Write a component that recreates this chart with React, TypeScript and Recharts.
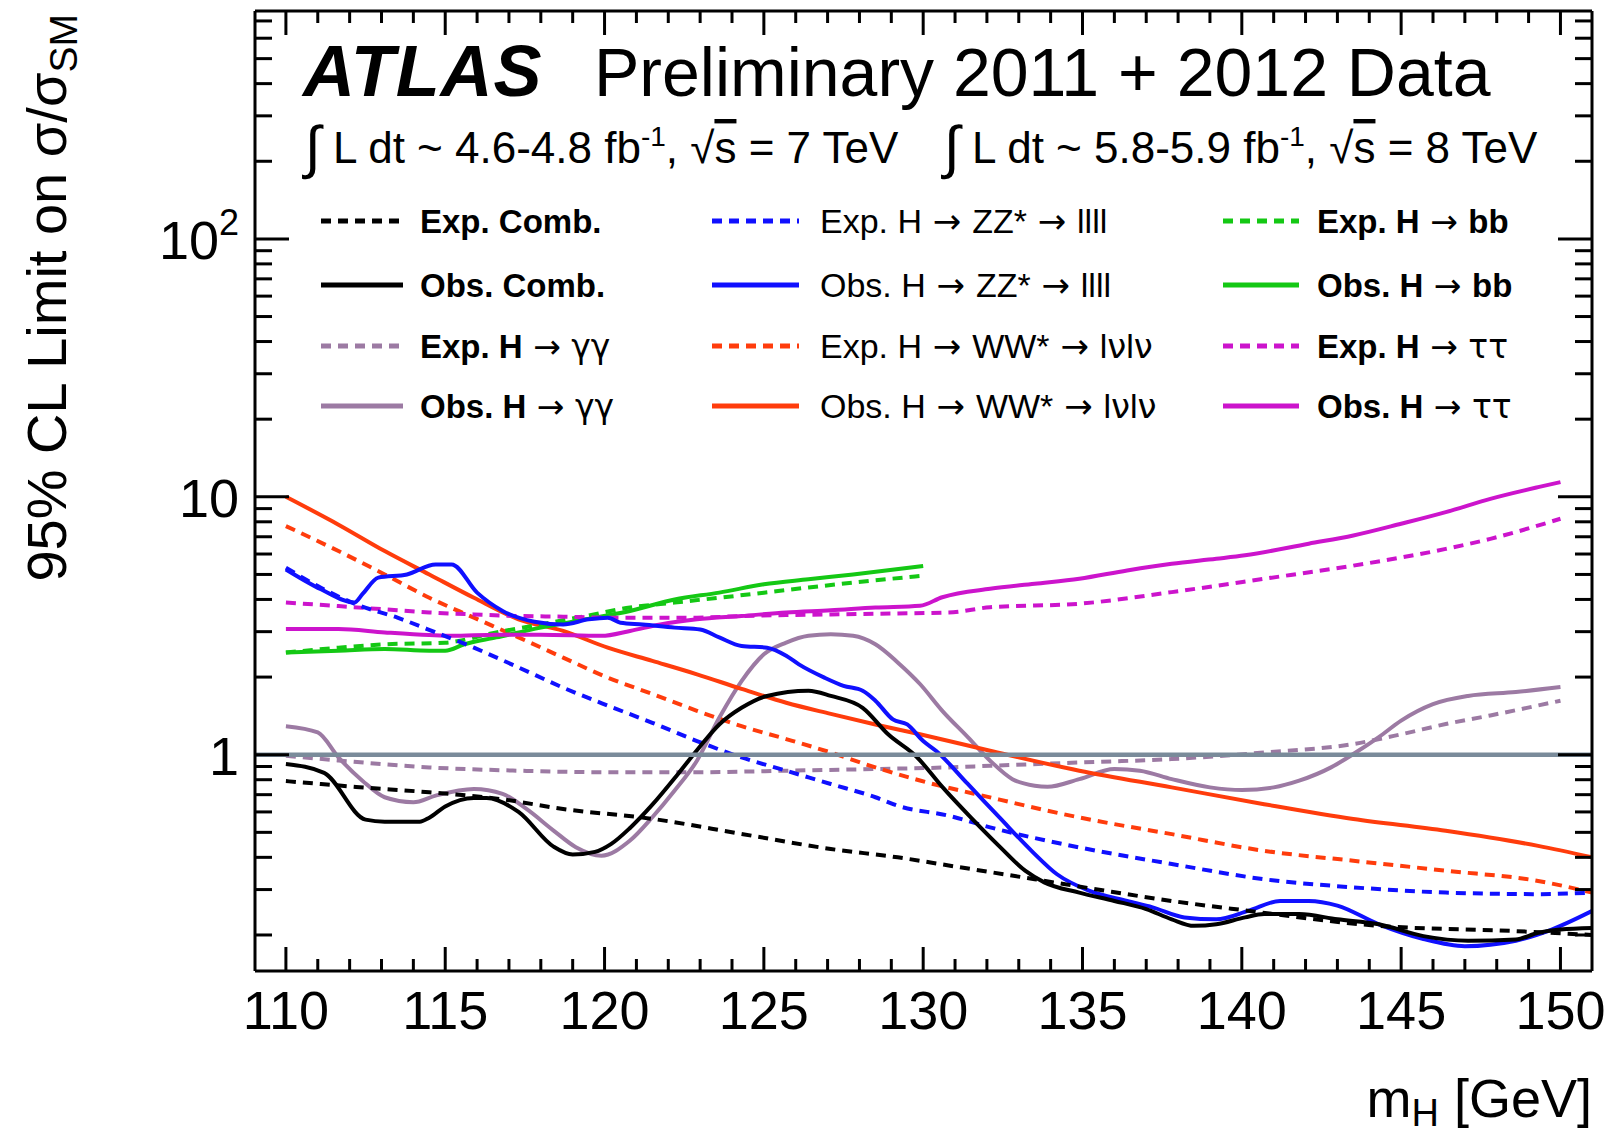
import { LineChart, Line, XAxis, YAxis, ReferenceLine } from 'recharts'

const W = 1614
const H = 1136
const FONT = '"Liberation Sans", Arial, Helvetica, sans-serif'
const SYMBOL_FONT = '"DejaVu Sans", "Liberation Sans", sans-serif'

// plot frame in page pixels
const FRAME = { left: 255, right: 1592, top: 11, bottom: 971 }
// room reserved by each axis (subtracted from the margins below)
const AXIS = { bottom: 40, top: 10, left: 40, right: 10 }

const X_DOMAIN: [number, number] = [109.03, 150.99]
const Y_DOMAIN: [number, number] = [0.145, 765]

const massTicks = Array.from({ length: 41 }, (_, i) => 110 + i)
const limitTicks = [
  0.2, 0.3, 0.4, 0.5, 0.6, 0.7, 0.8, 0.9,
  1, 2, 3, 4, 5, 6, 7, 8, 9,
  10, 20, 30, 40, 50, 60, 70, 80, 90,
  100, 200, 300, 400, 500, 600, 700,
]

// --- combined ---
const combExpMass = [110, 111.1, 112.2, 114.5, 116.7, 118.7, 121.5, 124.3, 127.1, 129.2, 130.8, 133.5, 135.7, 137.8, 140, 144.3, 148.6, 151]
const combExpLimit = [0.79, 0.77, 0.75, 0.715, 0.674, 0.616, 0.564, 0.493, 0.431, 0.4, 0.372, 0.329, 0.297, 0.271, 0.25, 0.217, 0.207, 0.2]
const combObsMass = [110, 111.2, 112.5, 113.1, 114.2, 114.5, 115, 115.9, 116.3, 117.3, 118.4, 119, 119.7, 120.2, 120.8, 121.5, 122.3, 122.9, 123.6, 124.3, 125.1, 126.4, 127.1, 128.1, 128.9, 129.8, 130.6, 131.5, 132.4, 133.2, 133.8, 134.9, 136, 137, 137.8, 138.5, 139.2, 140.1, 140.7, 141.8, 143, 144.3, 145.7, 147.1, 148.6, 149.3, 150, 151]
const combObsLimit = [0.92, 0.85, 0.56, 0.55, 0.55, 0.57, 0.63, 0.68, 0.68, 0.6, 0.44, 0.41, 0.42, 0.45, 0.52, 0.64, 0.84, 1.04, 1.31, 1.52, 1.69, 1.77, 1.69, 1.52, 1.2, 0.98, 0.75, 0.57, 0.44, 0.355, 0.32, 0.292, 0.271, 0.252, 0.23, 0.217, 0.22, 0.234, 0.241, 0.241, 0.23, 0.22, 0.198, 0.19, 0.192, 0.204, 0.21, 0.213]

// --- H -> ZZ* -> 4l ---
const zzExpMass = [110, 111.1, 112.2, 113.5, 114.7, 115.9, 117.3, 118.7, 120.1, 121.5, 122.9, 124.3, 125.7, 127.1, 128.5, 129.2, 130.8, 132.1, 134.9, 137.8, 140.7, 143.5, 146.4, 149.3, 151]
const zzExpLimit = [5.31, 4.44, 3.83, 3.4, 2.98, 2.6, 2.18, 1.82, 1.55, 1.33, 1.13, 0.976, 0.867, 0.77, 0.684, 0.634, 0.58, 0.523, 0.437, 0.377, 0.329, 0.306, 0.292, 0.288, 0.292]
const zzObsMass = [110, 111.1, 112.15, 112.4, 112.9, 113.8, 114.7, 115.2, 116, 116.8, 117.8, 118.7, 119.5, 120.1, 120.5, 121.2, 122.2, 123, 123.6, 124.3, 125.1, 125.7, 126.1, 126.9, 127.5, 128.1, 128.5, 129.05, 129.5, 130, 130.4, 131.4, 132.4, 133.4, 134.2, 135.2, 136.4, 137.2, 138.2, 139.2, 140.2, 141.2, 142.1, 143, 144.3, 145.7, 147, 148.6, 149.6, 151]
const zzObsLimit = [5.23, 4.38, 3.89, 4.19, 4.86, 5.0, 5.47, 5.47, 4.25, 3.61, 3.28, 3.2, 3.35, 3.4, 3.25, 3.2, 3.11, 3.06, 2.85, 2.64, 2.6, 2.42, 2.24, 1.99, 1.85, 1.77, 1.62, 1.37, 1.31, 1.13, 1.036, 0.77, 0.57, 0.424, 0.344, 0.297, 0.271, 0.256, 0.234, 0.23, 0.248, 0.271, 0.271, 0.26, 0.22, 0.193, 0.181, 0.19, 0.207, 0.248]

// --- H -> bb ---
const bbExpMass = [110, 111.65, 113.1, 115, 116.6, 118, 119.4, 120.8, 122.2, 123.6, 125, 126.4, 127.8, 129.9]
const bbExpLimit = [2.49, 2.6, 2.68, 2.72, 2.98, 3.2, 3.45, 3.72, 3.89, 4.06, 4.25, 4.45, 4.65, 4.93]
const bbObsMass = [110, 111.65, 113.1, 114.5, 115, 115.6, 116.6, 118, 119.4, 120.8, 122.2, 123.6, 125, 126.4, 127.8, 130]
const bbObsLimit = [2.49, 2.53, 2.57, 2.53, 2.53, 2.68, 2.85, 3.11, 3.35, 3.61, 4.0, 4.25, 4.58, 4.79, 5.0, 5.39]

// --- H -> gamma gamma ---
const ggExpMass = [110, 111.65, 114.5, 117.3, 120.1, 122.9, 125.7, 128.5, 130.8, 132.1, 134.9, 137.8, 140.7, 143.5, 145, 146.4, 147.8, 150]
const ggExpLimit = [0.99, 0.95, 0.893, 0.867, 0.855, 0.855, 0.867, 0.88, 0.893, 0.906, 0.933, 0.962, 1.02, 1.1, 1.2, 1.315, 1.42, 1.62]
const ggObsMass = [110, 111, 111.65, 112.4, 113.1, 114, 114.7, 115.9, 116.8, 117.55, 118.4, 119.1, 119.9, 120.8, 121.5, 122.2, 122.9, 123.6, 124.3, 125, 125.7, 126.4, 127.1, 127.8, 128.5, 129.2, 129.9, 130.6, 131.4, 132.1, 132.8, 133.5, 133.9, 134.9, 136, 136.8, 137.8, 139, 140, 141, 141.8, 142.8, 143.5, 144.3, 145, 146, 147.1, 148.6, 150]
const ggObsLimit = [1.29, 1.22, 0.976, 0.793, 0.684, 0.654, 0.694, 0.736, 0.705, 0.616, 0.508, 0.438, 0.406, 0.465, 0.572, 0.726, 0.948, 1.39, 1.93, 2.45, 2.72, 2.89, 2.93, 2.89, 2.68, 2.28, 1.88, 1.48, 1.17, 0.948, 0.804, 0.758, 0.751, 0.804, 0.88, 0.867, 0.804, 0.747, 0.729, 0.747, 0.793, 0.893, 1.006, 1.17, 1.355, 1.57, 1.69, 1.75, 1.83]

// --- H -> WW* -> lvlv ---
const wwMass = [110, 111.65, 113.1, 114.5, 115.9, 117.3, 118.7, 120.1, 121.5, 122.9, 124.3, 125.7, 127.1, 128.5, 129.9, 132.1, 134.9, 137.8, 140.7, 143.5, 146.4, 149.3, 151]
const wwExpLimit = [7.7, 6.16, 5.0, 4.06, 3.4, 2.85, 2.38, 1.99, 1.72, 1.48, 1.29, 1.15, 1.02, 0.893, 0.794, 0.683, 0.571, 0.492, 0.424, 0.388, 0.355, 0.324, 0.292]
const wwObsLimit = [10, 7.8, 6.16, 5.0, 4.06, 3.35, 3.02, 2.6, 2.31, 2.05, 1.8, 1.59, 1.44, 1.31, 1.2, 1.036, 0.867, 0.747, 0.643, 0.563, 0.507, 0.443, 0.4]

// --- H -> tau tau ---
const ttExpMass = [110, 111.65, 113.1, 114.5, 115.9, 117.3, 118.7, 120.1, 122.9, 124.3, 125.7, 127.1, 128.5, 130.8, 132.1, 134.9, 137.8, 140.7, 143.5, 146.4, 147.8, 150]
const ttExpLimit = [3.89, 3.77, 3.66, 3.56, 3.5, 3.45, 3.43, 3.4, 3.4, 3.45, 3.48, 3.5, 3.52, 3.56, 3.73, 3.85, 4.27, 4.81, 5.41, 6.28, 6.87, 8.22]
const ttObsMass = [110, 111.65, 113.1, 114.5, 115.2, 116.6, 118, 119.9, 120.8, 121.75, 122.9, 124.3, 125.7, 127.1, 128.5, 129.9, 130.6, 132.1, 133.5, 134.9, 136.4, 137.8, 139.2, 140.1, 142.1, 143.5, 145, 146.4, 147.8, 149.3, 150]
const ttObsLimit = [3.07, 3.07, 2.98, 2.91, 2.89, 2.92, 2.92, 2.89, 3.02, 3.2, 3.35, 3.45, 3.56, 3.63, 3.72, 3.78, 4.08, 4.4, 4.6, 4.81, 5.18, 5.5, 5.75, 5.93, 6.58, 7.08, 7.86, 8.72, 9.82, 10.9, 11.4]

const COLORS = {
  comb: '#000000',
  zz: '#1010ff',
  bb: '#14c814',
  gg: '#9c7aa3',
  ww: '#ff3c0c',
  tt: '#cc14cc',
  smLine: '#7a8b9a',
}

// a label piece is plain text, or { sym } for greek letters set in a thin symbol face
type Piece = string | { sym: string }

type Series = {
  key: string
  label: Piece[][] // groups joined by arrows
  color: string
  dashed: boolean
  mass: number[]
  limit: number[]
}

const GG = { sym: '\u03b3\u03b3' }
const TT = { sym: '\u03c4\u03c4' }
const NU = { sym: '\u03bd' }

// legend is column-major: 3 columns of 4 entries
const legendColumns: Series[][] = [
  [
    { key: 'combExp', label: [['Exp. Comb.']], color: COLORS.comb, dashed: true, mass: combExpMass, limit: combExpLimit },
    { key: 'combObs', label: [['Obs. Comb.']], color: COLORS.comb, dashed: false, mass: combObsMass, limit: combObsLimit },
    { key: 'ggExp', label: [['Exp. H'], [GG]], color: COLORS.gg, dashed: true, mass: ggExpMass, limit: ggExpLimit },
    { key: 'ggObs', label: [['Obs. H'], [GG]], color: COLORS.gg, dashed: false, mass: ggObsMass, limit: ggObsLimit },
  ],
  [
    { key: 'zzExp', label: [['Exp. H'], ['ZZ*'], ['llll']], color: COLORS.zz, dashed: true, mass: zzExpMass, limit: zzExpLimit },
    { key: 'zzObs', label: [['Obs. H'], ['ZZ*'], ['llll']], color: COLORS.zz, dashed: false, mass: zzObsMass, limit: zzObsLimit },
    { key: 'wwExp', label: [['Exp. H'], ['WW*'], ['l', NU, 'l', NU]], color: COLORS.ww, dashed: true, mass: wwMass, limit: wwExpLimit },
    { key: 'wwObs', label: [['Obs. H'], ['WW*'], ['l', NU, 'l', NU]], color: COLORS.ww, dashed: false, mass: wwMass, limit: wwObsLimit },
  ],
  [
    { key: 'bbExp', label: [['Exp. H'], ['bb']], color: COLORS.bb, dashed: true, mass: bbExpMass, limit: bbExpLimit },
    { key: 'bbObs', label: [['Obs. H'], ['bb']], color: COLORS.bb, dashed: false, mass: bbObsMass, limit: bbObsLimit },
    { key: 'ttExp', label: [['Exp. H'], [TT]], color: COLORS.tt, dashed: true, mass: ttExpMass, limit: ttExpLimit },
    { key: 'ttObs', label: [['Obs. H'], [TT]], color: COLORS.tt, dashed: false, mass: ttObsMass, limit: ttObsLimit },
  ],
]

// drawing order, last one on top
const drawOrder = ['ggExp', 'ggObs', 'wwExp', 'wwObs', 'bbExp', 'bbObs', 'ttExp', 'ttObs', 'zzExp', 'zzObs', 'combExp', 'combObs']
const seriesByKey = Object.fromEntries(legendColumns.flat().map((s) => [s.key, s]))

const DASH = '10 7'
const LINE_W = 4

const toPoints = (mass: number[], limit: number[]) => mass.map((m, i) => ({ m, v: limit[i] }))

const TICK = { xMajor: 24, xMinor: 12, yMajor: 34, yMinor: 17 }
const isDecade = (v: number) => Math.abs(Math.log10(v) - Math.round(Math.log10(v))) < 1e-9

function BottomTick({ x, y, payload }: any) {
  const v = payload.value as number
  const major = v % 5 === 0
  return (
    <g>
      <line x1={x} y1={y} x2={x} y2={y - (major ? TICK.xMajor : TICK.xMinor)} stroke="#000" strokeWidth={3} />
      {major && (
        <text x={x} y={y + 58} textAnchor="middle" fontSize={54} fontFamily={FONT} fill="#000">
          {v}
        </text>
      )}
    </g>
  )
}

function TopTick({ x, y, payload }: any) {
  const major = (payload.value as number) % 5 === 0
  return <line x1={x} y1={y} x2={x} y2={y + (major ? TICK.xMajor : TICK.xMinor)} stroke="#000" strokeWidth={3} />
}

function LeftTick({ x, y, payload }: any) {
  const v = payload.value as number
  const major = isDecade(v)
  return (
    <g>
      <line x1={x} y1={y} x2={x + (major ? TICK.yMajor : TICK.yMinor)} y2={y} stroke="#000" strokeWidth={3} />
      {major && (
        <text x={x - 16} y={y + 20} textAnchor="end" fontSize={54} fontFamily={FONT} fill="#000">
          {v === 100 ? (
            <>
              10
              <tspan dy={-24} fontSize={36}>2</tspan>
            </>
          ) : (
            v
          )}
        </text>
      )}
    </g>
  )
}

function RightTick({ x, y, payload }: any) {
  const major = isDecade(payload.value as number)
  return <line x1={x} y1={y} x2={x - (major ? TICK.yMajor : TICK.yMinor)} y2={y} stroke="#000" strokeWidth={3} />
}

const LEG_ROWS = [221, 285, 346, 406]
const LEG_COLS = [
  { x1: 321, x2: 403, tx: 420, weight: 'bold', size: 33 },
  { x1: 712, x2: 799, tx: 820, weight: 'normal', size: 34 },
  { x1: 1223, x2: 1299, tx: 1317, weight: 'bold', size: 33 },
]

function LegendLabel({ groups }: { groups: Piece[][] }) {
  return (
    <>
      {groups.map((g, i) => (
        <tspan key={i}>
          {i > 0 && (
            <tspan fontFamily={SYMBOL_FONT} fontWeight="normal">
              {' \u2192 '}
            </tspan>
          )}
          {g.map((p, j) =>
            typeof p === 'string' ? (
              <tspan key={j}>{p}</tspan>
            ) : (
              <tspan key={j} fontFamily={SYMBOL_FONT} fontWeight="normal">
                {p.sym}
              </tspan>
            ),
          )}
        </tspan>
      ))}
    </>
  )
}

function Lumi({ x, text, energy }: { x: number; text: string; energy: string }) {
  return (
    <text x={x} y={163} fontSize={44}>
      <tspan fontSize={58} dy={4}>{'\u222b'}</tspan>
      <tspan dy={-4}> L dt ~ {text} fb</tspan>
      <tspan fontSize={28} dy={-17}>-1</tspan>
      <tspan dy={17}>, {'\u221a'}</tspan>
      <tspan textDecoration="overline">s</tspan>
      <tspan> = {energy} TeV</tspan>
    </text>
  )
}

function Annotations() {
  return (
    <svg width={W} height={H} style={{ position: 'absolute', left: 0, top: 0, pointerEvents: 'none' }}>
      <g fontFamily={FONT} fill="#000">
        <text x={303} y={96} fontSize={72} fontWeight="bold" fontStyle="italic" letterSpacing={1}>
          ATLAS
        </text>
        <text x={594} y={96} fontSize={68}>Preliminary 2011 + 2012 Data</text>

        <Lumi x={305} text="4.6-4.8" energy="7" />
        <Lumi x={944} text="5.8-5.9" energy="8" />

        {legendColumns.map((col, ci) =>
          col.map((s, ri) => {
            const c = LEG_COLS[ci]
            const y = LEG_ROWS[ri]
            return (
              <g key={s.key}>
                <line
                  x1={c.x1}
                  x2={c.x2}
                  y1={y}
                  y2={y}
                  stroke={s.color}
                  strokeWidth={LINE_W + 1}
                  strokeDasharray={s.dashed ? DASH : undefined}
                />
                <text x={c.tx} y={y + 12} fontSize={c.size} fontWeight={c.weight}>
                  <LegendLabel groups={s.label} />
                </text>
              </g>
            )
          }),
        )}

        <g transform="translate(66,14) rotate(-90)">
          <text x={0} y={0} textAnchor="end" fontSize={56}>
            95% CL Limit on {'\u03c3/\u03c3'}
            <tspan fontSize={39} dy={11}>SM</tspan>
          </text>
        </g>

        <text x={FRAME.right} y={1117} textAnchor="end" fontSize={54}>
          m<tspan fontSize={38} dy={9}>H</tspan>
          <tspan dy={-9}> [GeV]</tspan>
        </text>
      </g>
    </svg>
  )
}

const axisLine = { stroke: '#000', strokeWidth: 3 }

export default function App() {
  return (
    <div style={{ position: 'absolute', left: 0, top: 0, width: W, height: H, background: '#fff' }}>
      <LineChart
        width={W}
        height={H}
        margin={{
          top: FRAME.top - AXIS.top,
          right: W - FRAME.right - AXIS.right,
          bottom: H - FRAME.bottom - AXIS.bottom,
          left: FRAME.left - AXIS.left,
        }}
      >
        <XAxis
          xAxisId="b"
          dataKey="m"
          type="number"
          domain={X_DOMAIN}
          allowDataOverflow
          ticks={massTicks}
          interval={0}
          height={AXIS.bottom}
          tickSize={0}
          tickMargin={0}
          tickLine={false}
          axisLine={axisLine}
          tick={<BottomTick />}
        />
        <XAxis
          xAxisId="t"
          orientation="top"
          dataKey="m"
          type="number"
          domain={X_DOMAIN}
          allowDataOverflow
          ticks={massTicks}
          interval={0}
          height={AXIS.top}
          tickSize={0}
          tickMargin={0}
          tickLine={false}
          axisLine={axisLine}
          tick={<TopTick />}
        />
        <YAxis
          yAxisId="l"
          dataKey="v"
          type="number"
          scale="log"
          domain={Y_DOMAIN}
          allowDataOverflow
          ticks={limitTicks}
          interval={0}
          width={AXIS.left}
          tickSize={0}
          tickMargin={0}
          tickLine={false}
          axisLine={axisLine}
          tick={<LeftTick />}
        />
        <YAxis
          yAxisId="r"
          orientation="right"
          dataKey="v"
          type="number"
          scale="log"
          domain={Y_DOMAIN}
          allowDataOverflow
          ticks={limitTicks}
          interval={0}
          width={AXIS.right}
          tickSize={0}
          tickMargin={0}
          tickLine={false}
          axisLine={axisLine}
          tick={<RightTick />}
        />
        {drawOrder.map((k) => {
          const s = seriesByKey[k]
          return (
            <Line
              key={s.key}
              xAxisId="b"
              yAxisId="l"
              data={toPoints(s.mass, s.limit)}
              dataKey="v"
              type="monotone"
              stroke={s.color}
              strokeWidth={LINE_W}
              strokeDasharray={s.dashed ? DASH : undefined}
              dot={false}
              activeDot={false}
              isAnimationActive={false}
            />
          )
        })}
        <ReferenceLine xAxisId="b" yAxisId="l" y={1} stroke={COLORS.smLine} strokeWidth={4.5} />
      </LineChart>
      <Annotations />
    </div>
  )
}
